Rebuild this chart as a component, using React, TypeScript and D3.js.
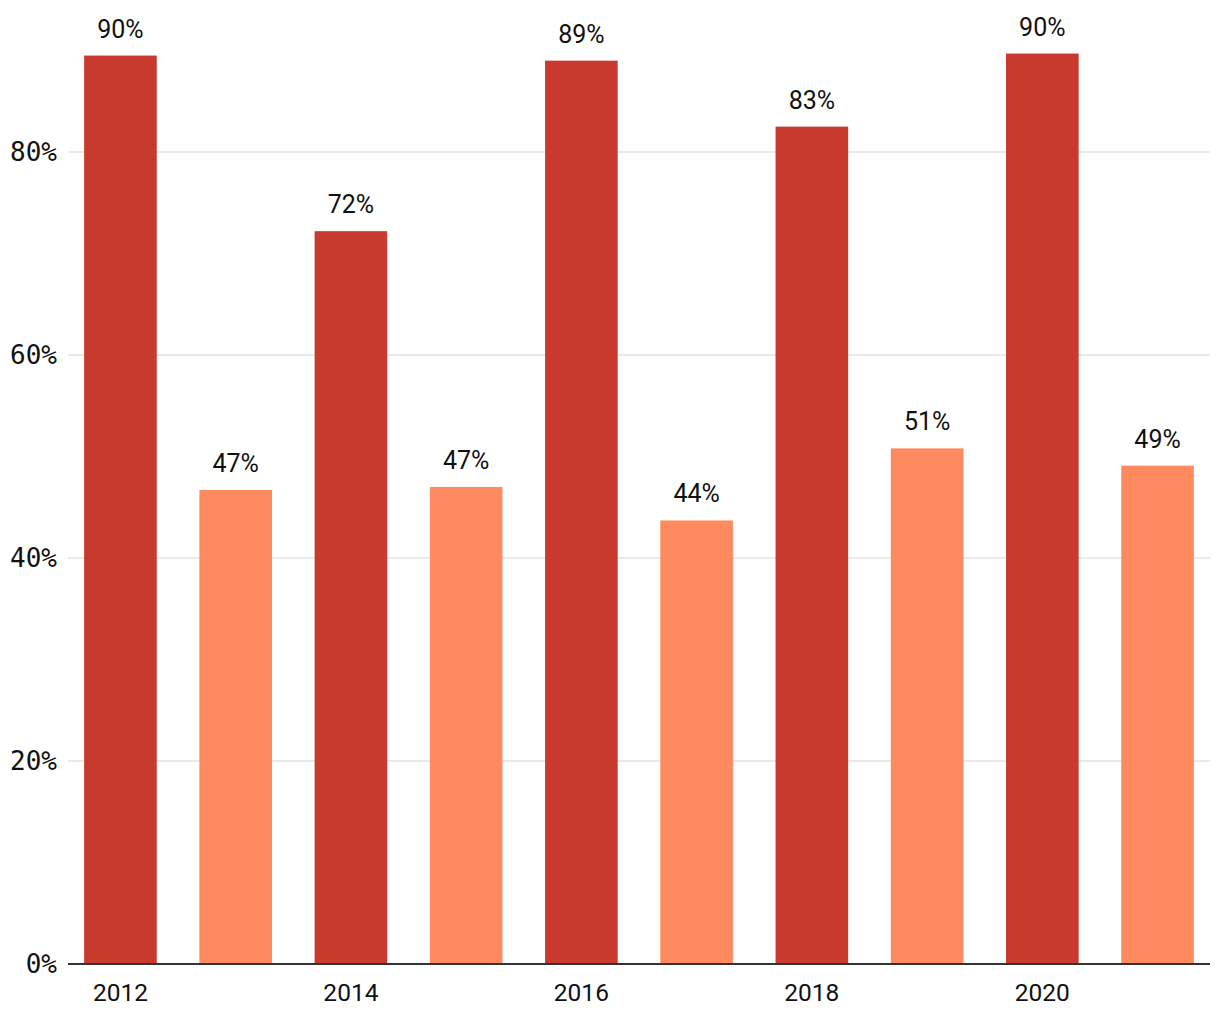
import React from "react";
import * as d3 from "d3";

const years = [2012, 2013, 2014, 2015, 2016, 2017, 2018, 2019, 2020, 2021];
const values = [89.5, 46.7, 72.2, 47.0, 89.0, 43.7, 82.5, 50.8, 89.7, 49.1];
const groups = ["A", "B", "A", "B", "A", "B", "A", "B", "A", "B"];
const yTicks = [0, 20, 40, 60, 80];
const xTickYears = [2012, 2014, 2016, 2018, 2020];

const W = 1220;
const H = 1020;

export default function App() {
  const x = d3
    .scaleBand<number>()
    .domain(years)
    .range([68, 1210])
    .paddingInner(0.37)
    .paddingOuter(0.14);
  const y = d3.scaleLinear().domain([0, 80]).range([964, 152]);
  const color = d3.scaleOrdinal<string, string>().domain(["A", "B"]).range(["#c8392e", "#ff8a60"]);
  const sans = "Roboto, 'Noto Sans', sans-serif";
  const mono = "'DejaVu Sans Mono', monospace";

  return (
    <svg width={W} height={H} style={{ position: "absolute", left: 0, top: 0 }}>
      {yTicks.filter((t) => t > 0).map((t) => (
        <line key={"g" + t} x1={68} x2={1210} y1={y(t)} y2={y(t)} stroke="#e3e3e3" strokeWidth={1.5} />
      ))}
      {yTicks.map((t) => (
        <text key={"yt" + t} x={57} y={y(t)} dy="0.35em" textAnchor="end" fontFamily={mono} fontSize={26} fill="#111">
          {t}%
        </text>
      ))}
      {years.map((yr, i) => (
        <rect key={yr} x={x(yr)} y={y(values[i])} width={x.bandwidth()} height={y(0) - y(values[i])} fill={color(groups[i])} />
      ))}
      {years.map((yr, i) => (
        <text
          key={"v" + yr}
          x={(x(yr) as number) + x.bandwidth() / 2}
          y={y(values[i]) - 18}
          textAnchor="middle"
          fontFamily={sans}
          fontSize={25}
          fill="#111"
        >
          {Math.round(values[i])}%
        </text>
      ))}
      <line x1={68} x2={1210} y1={y(0)} y2={y(0)} stroke="#333" strokeWidth={2} />
      {xTickYears.map((yr) => (
        <text
          key={"x" + yr}
          x={(x(yr) as number) + x.bandwidth() / 2}
          y={1001}
          textAnchor="middle"
          fontFamily={sans}
          fontSize={24.5}
          fill="#111"
        >
          {yr}
        </text>
      ))}
    </svg>
  );
}
